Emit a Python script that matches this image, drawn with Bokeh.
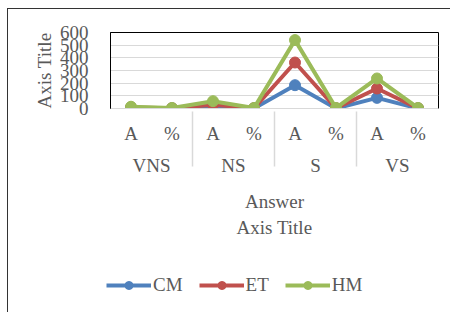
from bokeh.plotting import figure
from bokeh.models import FactorRange, FixedTicker, Legend, LegendItem, ColumnDataSource, Title
from bokeh.embed import file_html
from bokeh.resources import INLINE

outer = "Answer"
groups = ["VNS", "NS", "S", "VS"]
subs = ["A", "%"]
cm = [4, 1, 13, 1, 184, 1, 84, 1]
et = [8, 2, 30, 2, 363, 2, 158, 2]
hm = [14, 4, 58, 4, 540, 4, 237, 4]
yticks = [0, 100, 200, 300, 400, 500, 600]
series = [("CM", cm, "#4F81BD"), ("ET", et, "#C0504D"), ("HM", hm, "#9BBB59")]

factors = [(g, s) for g in groups for s in subs]
FONT = "Liberation Serif"
TXT = "#595959"
FS = "19px"

p = figure(frame_width=328, frame_height=76, x_range=FactorRange(*factors, factor_padding=0,
           subgroup_padding=0, group_padding=0, range_padding=0),
           y_range=(0, 600), output_backend="svg", toolbar_location=None,
           min_border_left=102, min_border_right=12, min_border_top=23, min_border_bottom=204)
p.styles = {"border-left": "1px solid #333", "border-top": "1px solid #333",
            "margin-left": "7px", "margin-top": "8px"}

p.outline_line_color = "black"
p.outline_line_width = 1
p.xgrid.grid_line_color = None
p.ygrid.grid_line_color = "#D9D9D9"
p.ygrid.ticker = FixedTicker(ticks=yticks)

ya = p.yaxis[0]
ya.ticker = FixedTicker(ticks=yticks)
ya.major_tick_line_color = None
ya.minor_tick_line_color = None
ya.axis_line_color = "black"
ya.major_label_text_font = FONT
ya.major_label_text_font_size = FS
ya.major_label_text_color = TXT
ya.major_label_standoff = 16
ya.axis_label = "Axis Title"
ya.axis_label_text_font = FONT
ya.axis_label_text_font_size = FS
ya.axis_label_text_font_style = "normal"
ya.axis_label_text_color = TXT
ya.axis_label_standoff = 2

xa = p.xaxis[0]
xa.major_tick_line_color = None
xa.minor_tick_line_color = None
xa.axis_line_color = "#D9D9D9"
xa.major_label_text_font = FONT
xa.major_label_text_font_size = FS
xa.major_label_text_color = TXT
xa.major_label_standoff = 8
xa.group_text_font = FONT
xa.group_text_font_size = FS
xa.group_text_color = TXT
xa.group_text_font_style = "normal"
xa.separator_line_color = "#D9D9D9"
xa.separator_line_width = 1.5
xa.axis_label = outer
xa.axis_label_text_font = FONT
xa.axis_label_text_font_size = FS
xa.axis_label_text_font_style = "normal"
xa.axis_label_text_color = TXT
xa.axis_label_standoff = 12

ttl = Title(text="Axis Title", align="center", text_font=FONT, text_font_size=FS,
            text_font_style="normal", text_color=TXT, standoff=0)
p.add_layout(ttl, "below")

# small companion figure that only carries the legend (its lines fall outside its view)
q = figure(width=300, height=24, x_range=p.x_range, y_range=(1000, 1100),
           output_backend="svg", toolbar_location=None,
           x_axis_location=None, y_axis_location=None, min_border=0)
q.outline_line_color = None
q.background_fill_alpha = 0
q.border_fill_alpha = 0
for g in q.renderers[:]:
    pass
q.xgrid.visible = False
q.ygrid.visible = False
q.styles = {"position": "absolute", "left": "106px", "top": "274px"}

items = []
for name, vals, col in series:
    src = ColumnDataSource(dict(x=factors, y=vals))
    p.line("x", "y", source=src, line_color=col, line_width=4)
    p.scatter("x", "y", source=src, size=11, fill_color=col, line_color=col)
    lq = q.line("x", "y", source=src, line_color=col, line_width=4)
    cq = q.scatter("x", "y", source=src, size=8, fill_color=col, line_color=col)
    items.append(LegendItem(label=name, renderers=[lq, cq]))

leg = Legend(items=items, orientation="horizontal", location="top_left",
             border_line_color=None, background_fill_alpha=0,
             label_text_font=FONT, label_text_font_size=FS, label_text_color=TXT,
             glyph_width=45, label_standoff=2, spacing=16, padding=0, margin=0)
q.add_layout(leg, "center")

open("out.html", "w").write(file_html([p, q], INLINE))
